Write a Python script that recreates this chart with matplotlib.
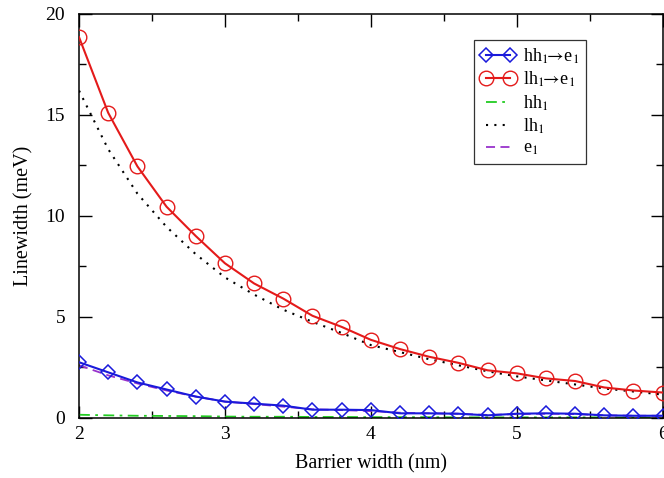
import matplotlib

matplotlib.use("Agg")
import matplotlib.pyplot as plt
from matplotlib.ticker import MultipleLocator

plt.rcParams["font.family"] = ["Liberation Serif", "DejaVu Serif"]
plt.rcParams["mathtext.fontset"] = "stix"

# barrier width (nm)
width = [2.0, 2.2, 2.4, 2.6, 2.8, 3.0, 3.2, 3.4, 3.6, 3.8, 4.0,
         4.2, 4.4, 4.6, 4.8, 5.0, 5.2, 5.4, 5.6, 5.8, 6.0]
# linewidths (meV)
hh1_e1 = [2.75, 2.25, 1.75, 1.4, 1.05, 0.8, 0.7, 0.6, 0.4, 0.4, 0.38,
          0.22, 0.22, 0.2, 0.12, 0.2, 0.22, 0.2, 0.12, 0.1, 0.1]
lh1_e1 = [18.85, 15.1, 12.45, 10.45, 9.0, 7.65, 6.65, 5.9, 5.05, 4.5, 3.86,
          3.4, 3.02, 2.72, 2.35, 2.2, 1.95, 1.82, 1.5, 1.35, 1.25]
hh1 = [0.15, 0.12, 0.1, 0.09, 0.08, 0.06, 0.05, 0.05, 0.04, 0.04, 0.03,
       0.03, 0.03, 0.02, 0.02, 0.02, 0.02, 0.02, 0.02, 0.01, 0.01]
lh1 = [16.2, 13.3, 11.1, 9.45, 8.1, 6.95, 6.1, 5.35, 4.75, 4.2, 3.6,
       3.25, 2.9, 2.6, 2.3, 2.05, 1.85, 1.65, 1.45, 1.3, 1.15]
e1 = [2.6, 2.1, 1.7, 1.35, 1.05, 0.8, 0.68, 0.55, 0.42, 0.38, 0.33,
      0.25, 0.22, 0.2, 0.14, 0.18, 0.2, 0.18, 0.12, 0.1, 0.1]

fig = plt.figure(figsize=(6.64, 4.78), dpi=100)
ax = fig.add_axes([0.119, 0.126, 0.879, 0.845])

ax.plot(width, hh1_e1, color="#1a1adb", lw=1.5, marker="D", ms=7.5, mfc="none",
        mew=1.1, label=r"hh$_1\!\!\rightarrow\!$e$_1$", zorder=5)
ax.plot(width, lh1_e1, color="#e41a1a", lw=1.5, marker="o", ms=10.5, mfc="none",
        mew=1.0, label=r"lh$_1\!\!\rightarrow\!$e$_1$", zorder=5)
ax.plot(width, hh1, color="#22cc22", lw=1.3, ls=(0, (6, 3, 1.5, 3)), label="hh$_1$")
ax.plot(width, lh1, color="black", lw=1.5, ls=(0, (1, 3)), label="lh$_1$")
ax.plot(width, e1, color="#9933cc", lw=1.3, ls=(0, (5, 3)), label="e$_1$")

ax.set_xlim(2, 6)
ax.set_ylim(0, 20)
ax.xaxis.set_major_locator(MultipleLocator(1))
ax.xaxis.set_minor_locator(MultipleLocator(0.5))
ax.yaxis.set_major_locator(MultipleLocator(5))
ax.yaxis.set_minor_locator(MultipleLocator(2.5))
ax.tick_params(which="both", direction="in", top=True, right=True, labelsize=14, width=1)
ax.tick_params(which="major", length=9)
ax.tick_params(which="minor", length=5)
ax.tick_params(axis="x", which="major", pad=6)
ax.tick_params(axis="y", which="major", pad=10)
for s in ax.spines.values():
    s.set_linewidth(1.1)

ax.set_xlabel("Barrier width (nm)", fontsize=14.5, labelpad=8)
ax.set_ylabel("Linewidth (meV)", fontsize=14.5, labelpad=9)

leg = ax.legend(loc="upper right", bbox_to_anchor=(0.868, 0.935), fontsize=13,
                numpoints=2, fancybox=False, edgecolor="black", handlelength=1.9,
                labelspacing=0.22, borderpad=0.35, handletextpad=0.45, borderaxespad=0)
leg.get_frame().set_linewidth(0.9)

fig.savefig("out.png", dpi=100)
